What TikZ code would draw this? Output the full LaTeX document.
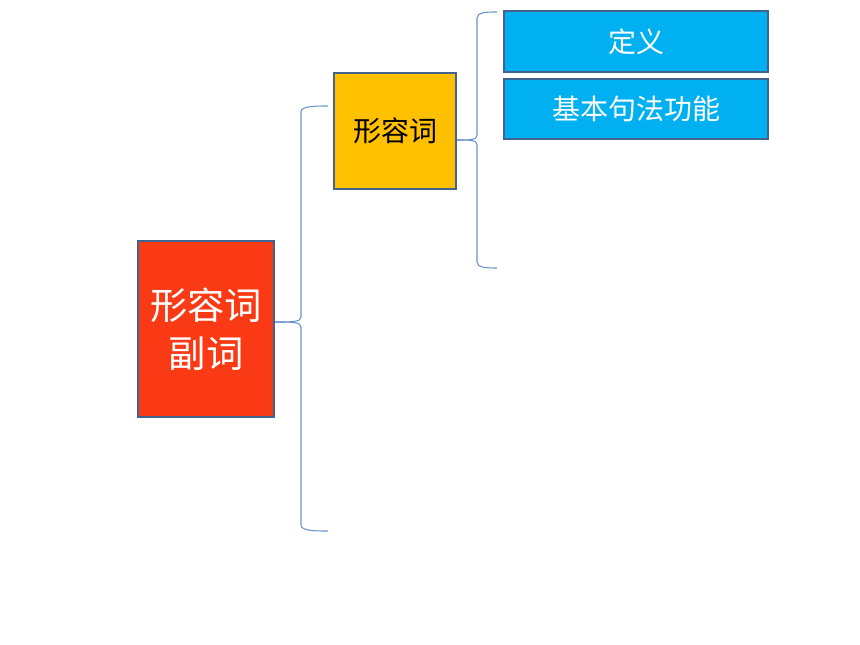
\documentclass[tikz,border=0pt]{standalone}
\usepackage{fontspec}
\setmainfont{Noto Sans CJK SC}
\definecolor{bordc}{HTML}{41638F}
\definecolor{bracec}{HTML}{6A93CC}
\definecolor{redc}{HTML}{FA3A14}
\definecolor{yelc}{HTML}{FFC000}
\definecolor{bluec}{HTML}{00B0F0}
\tikzset{
box/.style={draw=bordc,line width=1.5pt,inner sep=0pt,align=center},
brace/.style={draw=bracec,line width=0.8pt}
}
\begin{document}
\begin{tikzpicture}
[x=0.75pt,y=-0.75pt]
\useasboundingbox (0,0) rectangle (860,645);

\node[box,fill=redc,text=white,minimum width=136*0.75pt,minimum height=176*0.75pt,
font=\fontsize{28pt}{36pt}\selectfont] (root) at (206,329) {形容词\\副词};
\node[box,fill=yelc,text=black,minimum width=122*0.75pt,minimum height=116*0.75pt,
font=\fontsize{21pt}{26pt}\selectfont] (adj) at (395,131) {形容词};
\node[box,fill=bluec,text=white,minimum width=264*0.75pt,minimum height=61*0.75pt,
font=\fontsize{21pt}{26pt}\selectfont] (def) at (636,41.5) {定义};
\node[box,fill=bluec,text=white,minimum width=264*0.75pt,minimum height=60*0.75pt,
font=\fontsize{21pt}{26pt}\selectfont] (func) at (636,109) {基本句法功能};

% big brace
\coordinate (t1) at (328,106);
\coordinate (b1) at (328,531);
\path[brace] ([yshift=5.25pt]root.east) .. controls (292,322) and (301,322) .. (301,317)
-- (301,112) .. controls (301,106) and (315,106) .. (t1);
\path[brace] ([yshift=5.25pt]root.east) .. controls (292,322) and (301,322) .. (301,327)
-- (301,525) .. controls (301,531) and (315,531) .. (b1);

% small brace
\coordinate (t2) at (497,12);
\coordinate (b2) at (497,268);
\path[brace] ([yshift=-6.75pt]adj.east) .. controls (471,140) and (477,140) .. (477,135)
-- (477,18) .. controls (477,12) and (488,12) .. (t2);
\path[brace] ([yshift=-6.75pt]adj.east) .. controls (471,140) and (477,140) .. (477,145)
-- (477,262) .. controls (477,268) and (488,268) .. (b2);
\end{tikzpicture}
\end{document}
